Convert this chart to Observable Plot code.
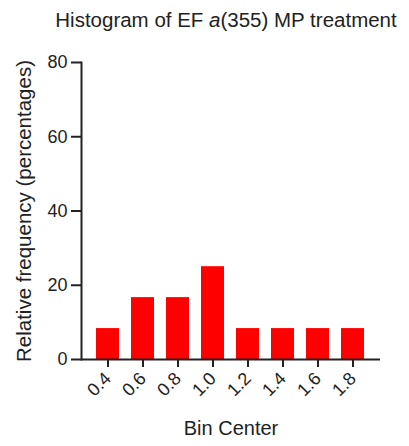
<!DOCTYPE html>
<html>
<head>
<meta charset="utf-8">
<script src="https://cdn.jsdelivr.net/npm/d3@7"></script>
<script src="https://cdn.jsdelivr.net/npm/@observablehq/plot@0.6"></script>
<style>
  body { margin: 0; background: #fff; }
  #title {
    width: 409px; height: 40px; line-height: 40px; box-sizing: border-box;
    padding-left: 43px; text-align: center; white-space: nowrap;
    font-family: "Liberation Sans", Arial, sans-serif; font-size: 20.5px; color: #222;
  }
</style>
</head>
<body>
<div id="title">Histogram of EF <i>a</i>(355) MP treatment</div>
<div id="chart"></div>
<script>
// Relative frequency (%) per bin of the EF a(355) MP treatment histogram
const binCenters = ["0.4", "0.6", "0.8", "1.0", "1.2", "1.4", "1.6", "1.8"];
const relFreq = [8.33, 16.67, 16.67, 25, 8.33, 8.33, 8.33, 8.33];
const yTicks = [0, 20, 40, 60, 80];
const xLabel = "Bin Center";
const yLabel = "Relative frequency (percentages)";

const data = binCenters.map((b, i) => ({bin: b, freq: relFreq[i]}));
const ink = "#222";

const chart = Plot.plot({
  width: 409,
  height: 406,
  marginLeft: 81,
  marginRight: 29,
  marginTop: 22,
  marginBottom: 87,
  style: {fontFamily: "'Liberation Sans', Arial, sans-serif", fontSize: "18px", color: ink, background: "#fff", overflow: "visible"},
  x: {domain: binCenters, padding: 0.34, label: null},
  y: {domain: [0, 80], label: null},
  marks: [
    Plot.barY(data, {x: "bin", y: "freq", fill: "#ff0000"}),
    Plot.axisY({ticks: yTicks, tickSize: 10, tickPadding: 4, strokeWidth: 2, stroke: ink, fontSize: 18, label: null}),
    Plot.axisX({tickSize: 8, tickPadding: 8, tickRotate: -45, strokeWidth: 2, stroke: ink, fontSize: 18, label: null}),
    Plot.ruleY([0], {stroke: ink, strokeWidth: 2}),
    Plot.frame({anchor: "left", stroke: ink, strokeWidth: 2}),
    Plot.text([xLabel], {frameAnchor: "bottom", dy: 75, fontSize: 20, fill: ink}),
    Plot.text([yLabel], {frameAnchor: "left", textAnchor: "middle", rotate: -90, dx: -57, fontSize: 20.5, fill: ink})
  ]
});
document.getElementById("chart").appendChild(chart);
</script>
</body>
</html>
